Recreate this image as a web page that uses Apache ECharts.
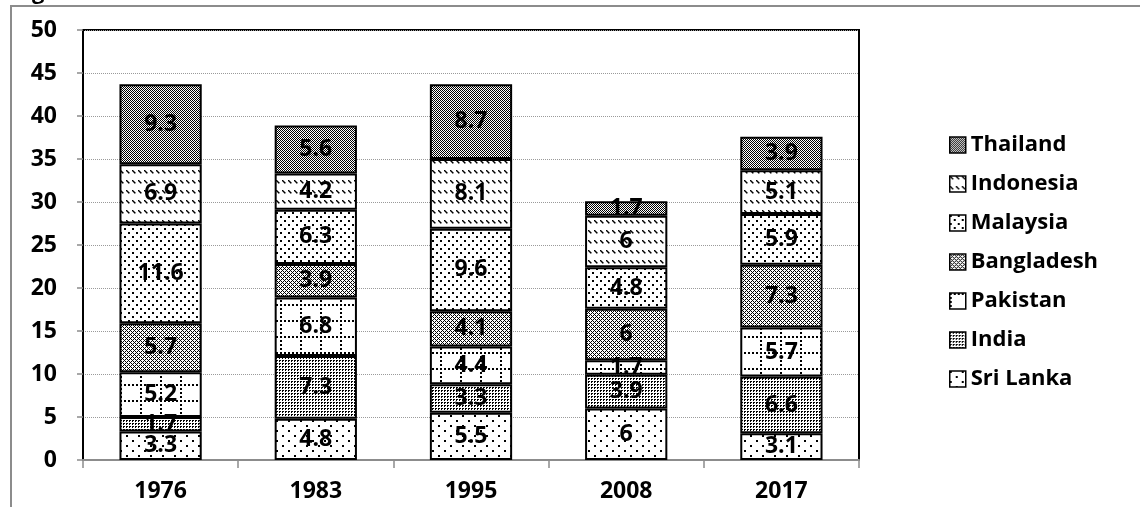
<!DOCTYPE html>
<html>
<head>
<meta charset="utf-8">
<script src="https://cdn.jsdelivr.net/npm/echarts@6/dist/echarts.min.js"></script>
<style>
  html, body { margin: 0; padding: 0; background: #fff; }
  #chart { width: 1140px; height: 507px; }
</style>
</head>
<body>
<div id="chart"></div>
<script>
const years = ['1976', '1983', '1995', '2008', '2017'];
const sriLanka = [3.3, 4.8, 5.5, 6, 3.1];
const india = [1.7, 7.3, 3.3, 3.9, 6.6];
const pakistan = [5.2, 6.8, 4.4, 1.7, 5.7];
const bangladesh = [5.7, 3.9, 4.1, 6, 7.3];
const malaysia = [11.6, 6.3, 9.6, 4.8, 5.9];
const indonesia = [6.9, 4.2, 8.1, 6, 5.1];
const thailand = [9.3, 5.6, 8.7, 1.7, 3.9];
const countryNames = ['Sri Lanka', 'India', 'Pakistan', 'Bangladesh', 'Malaysia', 'Indonesia', 'Thailand'];
const yTicks = [0, 5, 10, 15, 20, 25, 30, 35, 40, 45, 50];

const FONT = '"Open Sans", "DejaVu Sans", sans-serif';

// small canvas tiles standing in for the excel fill patterns
const makePattern = (w, h, draw) => {
  const c = document.createElement('canvas');
  c.width = w;
  c.height = h;
  const g = c.getContext('2d');
  g.fillStyle = '#fff';
  g.fillRect(0, 0, w, h);
  g.fillStyle = '#000';
  draw(g, w, h);
  return { image: c, repeat: 'repeat' };
};

const patterns = [
  // sri lanka: sparse dots
  makePattern(12, 10, (g) => { g.fillRect(0, 0, 2, 2); g.fillRect(6, 5, 2, 2); }),
  // india: dense dots
  makePattern(3, 3, (g) => { g.fillRect(0, 0, 2, 1); g.fillRect(0, 1, 1, 1); }),
  // pakistan: dotted grid
  makePattern(20, 16, (g, w, h) => {
    for (let x = 0; x < w; x += 4) g.fillRect(x, 0, 2, 2);
    for (let y = 0; y < h; y += 4) g.fillRect(0, y, 2, 2);
  }),
  // bangladesh: diamond lattice
  makePattern(4, 4, (g) => {
    [[0, 0], [1, 1], [2, 2], [3, 3], [1, 3], [3, 1]].forEach(([x, y]) => g.fillRect(x, y, 1, 1));
  }),
  // malaysia: medium dots
  makePattern(8, 8, (g) => { g.fillRect(0, 0, 2, 2); g.fillRect(4, 4, 2, 2); }),
  // indonesia: dashed downward diagonals
  makePattern(6, 10, (g) => {
    [[0, 0], [1, 1], [2, 2]].forEach(([x, y]) => g.fillRect(x, y, 1.5, 1.5));
  }),
  // thailand: checkerboard
  makePattern(2, 2, (g) => { g.fillRect(0, 0, 1, 1); g.fillRect(1, 1, 1, 1); }),
];

const values = [sriLanka, india, pakistan, bangladesh, malaysia, indonesia, thailand];

const chart = echarts.init(document.getElementById('chart'));

const option = {
  backgroundColor: '#fff',
  animation: false,
  textStyle: { fontFamily: FONT },
  graphic: [
    {
      type: 'polyline',
      shape: { points: [[11, 507], [11, 6], [1140, 6]] },
      style: { stroke: '#8c8c8c', lineWidth: 2, fill: null },
    },
    {
      type: 'text',
      x: 32,
      y: -18,
      style: { text: 'g', font: 'bold 22px ' + FONT, fill: '#000' },
    },
  ],
  grid: {
    left: 83,
    right: 281,
    top: 30,
    bottom: 47,
    show: true,
    borderColor: '#000',
    borderWidth: 2,
  },
  legend: {
    orient: 'vertical',
    left: 944,
    top: 129,
    itemWidth: 16,
    itemHeight: 16,
    itemGap: 17,
    icon: 'rect',
    data: countryNames.slice().reverse(),
    itemStyle: { borderColor: '#000', borderWidth: 1.5 },
    textStyle: { fontSize: 22, lineHeight: 22, fontWeight: 'bold', color: '#000', fontFamily: FONT },
  },
  xAxis: {
    type: 'category',
    data: years,
    axisLine: { lineStyle: { color: '#8c8c8c', width: 2 } },
    axisTick: { show: true, length: 8, lineStyle: { color: '#8c8c8c', width: 1.5 } },
    axisLabel: { fontSize: 23, fontWeight: 'bold', color: '#000', margin: 20 },
  },
  yAxis: {
    type: 'value',
    min: yTicks[0],
    max: yTicks[yTicks.length - 1],
    interval: 5,
    axisLine: { show: true, lineStyle: { color: '#000', width: 2 } },
    axisTick: { show: true, length: 6, lineStyle: { color: '#8c8c8c', width: 1.5 } },
    axisLabel: { fontSize: 23, fontWeight: 'bold', color: '#000', margin: 26 },
    splitLine: { lineStyle: { type: 'dotted', color: '#9a9a9a', width: 1 } },
  },
  series: countryNames.map((name, i) => ({
    name: name,
    type: 'bar',
    stack: 'total',
    barWidth: '53%',
    data: values[i],
    itemStyle: {
      color: patterns[i],
      borderColor: '#000',
      borderWidth: 2,
    },
    label: {
      show: true,
      position: 'inside',
      formatter: '{c}',
      fontSize: 23,
      fontWeight: 'bold',
      color: '#000',
      fontFamily: FONT,
    },
  })),
};

chart.setOption(option);
</script>
</body>
</html>
